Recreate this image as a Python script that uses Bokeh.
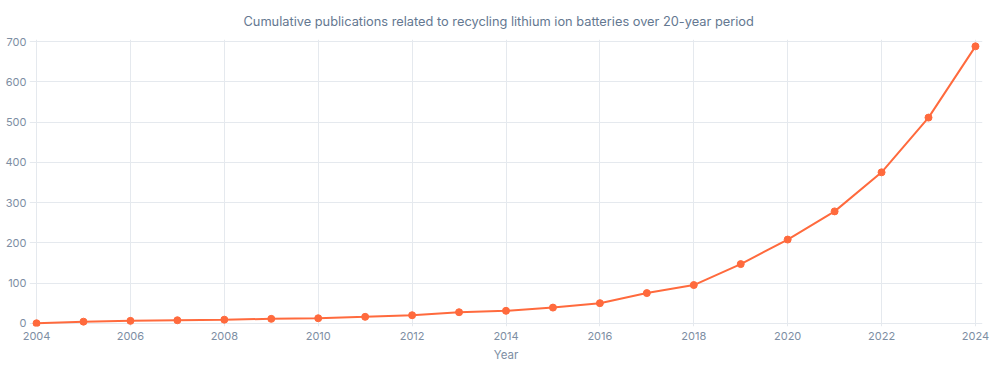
from bokeh.plotting import figure
from bokeh.models import Range1d, FixedTicker, Title
from bokeh.embed import file_html
from bokeh.resources import INLINE

years = list(range(2004, 2025))
publications = [0, 4, 6, 7.5, 9, 11, 12.5, 16, 20, 27.5, 31, 39, 50, 75, 95, 147, 208, 278, 375, 511, 688]
x_ticks = list(range(2004, 2025, 2))
y_ticks = list(range(0, 701, 100))

TEXT = "#7d8ea3"
GRID = "#e5e9ee"
LINE = "#ff6a3d"
FONT = "Inter"

p = figure(width=1000, height=376, output_backend="svg", toolbar_location=None,
           x_range=Range1d(2003.85, 2024.15), y_range=Range1d(-8, 705),
           min_border_left=29, min_border_right=18, min_border_top=39, min_border_bottom=50)
p.outline_line_color = None
p.title = Title(text="Cumulative publications related to recycling lithium ion batteries over 20-year period",
                align="left", text_font=FONT, text_font_size="12.8px", text_font_style="normal",
                text_color="#647891", standoff=22, offset=214)

p.line(years, publications, line_color=LINE, line_width=2)
p.scatter(years, publications, size=7, fill_color=LINE, line_color=LINE)

p.xaxis.ticker = FixedTicker(ticks=x_ticks)
p.yaxis.ticker = FixedTicker(ticks=y_ticks)
for ax in (p.xaxis, p.yaxis):
    ax.axis_line_color = None
    ax.major_tick_line_color = None
    ax.minor_tick_line_color = None
    ax.major_tick_out = 0
    ax.major_tick_in = 0
    ax.minor_tick_out = 0
    ax.minor_tick_in = 0
    ax.major_label_text_font = FONT
    ax.major_label_text_font_size = "11px"
    ax.major_label_text_color = TEXT
p.xaxis.major_label_standoff = 5
p.yaxis.major_label_standoff = 3
p.xaxis.axis_label = "Year"
p.xaxis.axis_label_text_font = FONT
p.xaxis.axis_label_text_font_size = "11.5px"
p.xaxis.axis_label_text_font_style = "normal"
p.xaxis.axis_label_text_color = TEXT
p.xaxis.axis_label_standoff = 5

p.xgrid.ticker = FixedTicker(ticks=x_ticks)
p.ygrid.ticker = FixedTicker(ticks=y_ticks)
p.grid.grid_line_color = GRID
p.grid.grid_line_width = 1

open("out.html", "w").write(file_html(p, INLINE))
